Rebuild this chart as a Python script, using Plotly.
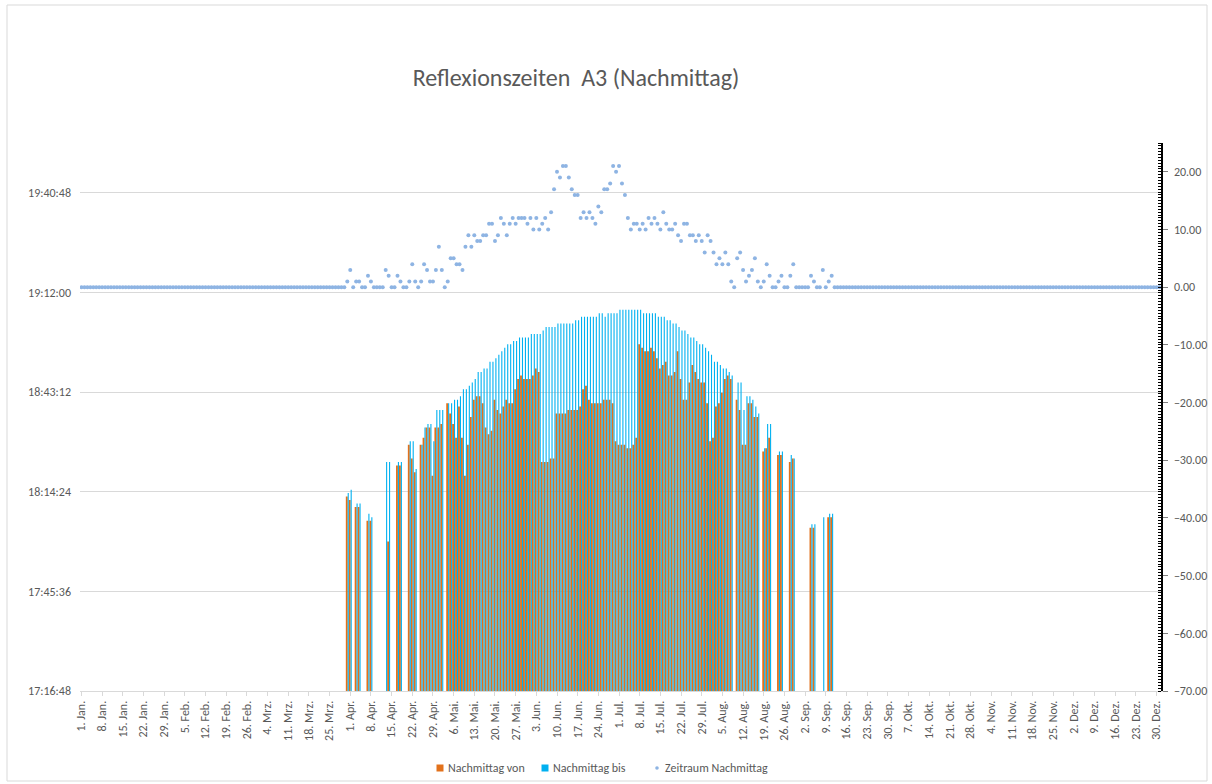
import plotly.graph_objects as go

# ---------------- data ----------------
MONTHS = ["Jan.", "Feb.", "Mrz.", "Apr.", "Mai.", "Jun.", "Jul.", "Aug.", "Sep.", "Okt.", "Nov.", "Dez."]
MONTH_DAYS = [31, 29, 31, 30, 31, 30, 31, 31, 30, 31, 30, 31]   # leap year
DAY_LABELS = [f"{d}. {m}" for m, n in zip(MONTHS, MONTH_DAYS) for d in range(1, n + 1)]
TICK_LABELS = DAY_LABELS[::7]

FIRST_DAY = "31. Mrz."   # the lists below start at this category

VON = [
    "18:13", "18:12", None, "18:10", "18:10", None, None, "18:06", "18:06", None,   # 31. Mrz-9. Apr
    None, None, None, None, "18:00", None, None, "18:22", "18:22", None,           # 10.-19. Apr
    None, "18:28", "18:24", "18:20", None, "18:28", "18:30", "18:33", "18:33", "18:19",  # 20.-29. Apr
    "18:33", "18:33", "18:34", None, "18:40", "18:37", "18:34", "18:30", "18:39", "18:30",  # 30. Apr-9. Mai
    "18:19", "18:28", "18:36", "18:41", "18:42", "18:42", "18:40", "18:33", "18:31", "18:32",  # 10.-19. Mai
    "18:41", "18:38", "18:37", "18:39", "18:41", "18:40", "18:40", "18:44", "18:47", "18:48",  # 20.-29. Mai
    "18:47", "18:47", "18:47", "18:48", "18:50", "18:49", "18:23", "18:23", "18:23", "18:24",  # 30. Mai-8. Jun
    "18:24", "18:37", "18:37", "18:37", "18:37", "18:38", "18:38", "18:38", "18:38", "18:39",  # 9.-18. Jun
    "18:44", "18:45", "18:41", "18:40", "18:40", "18:40", "18:40", "18:41", "18:41", "18:41",  # 19.-28. Jun
    "18:40", "18:29", "18:28", "18:28", "18:28", "18:27", "18:27", "18:28", "18:30", "18:57",  # 29. Jun-8. Jul
    "18:56", "18:55", "18:55", "18:56", "18:55", "18:53", "18:50", "18:51", "18:52", "18:48",  # 9.-18. Jul
    "18:48", "18:49", "18:55", "18:47", "18:41", "18:41", "18:46", "18:51", "18:49", "18:47",  # 19.-28. Jul
    "18:46", "18:46", "18:40", "18:29", "18:30", "18:39", "18:40", "18:43", "18:47", "18:48",  # 29. Jul-7. Aug
    "18:47", None, "18:41", "18:38", "18:28", "18:28", "18:40", "18:40", "18:36", "18:36",  # 8.-17. Aug
    None, "18:26", "18:27", "18:30", None, None, "18:25", "18:25", None, None,              # 18.-27. Aug
    "18:23", "18:24", None, None, None, None, None, "18:04", "18:04", None,                 # 28. Aug-6. Sep
    None, None, None, "18:07", "18:07",                                                     # 7.-11. Sep
]

BIS = [
    "18:14", "18:15", None, "18:11", "18:11", None, None, "18:08", "18:07", None,
    None, None, None, "18:23", "18:23", None, None, "18:23", "18:23", None,
    None, "18:29", "18:29", "18:21", None, "18:28", "18:33", "18:34", "18:34", "18:29",
    "18:38", "18:38", "18:38", None, "18:40", "18:40", "18:41", "18:41", "18:42", "18:44",
    "18:44", "18:45", "18:46", "18:47", "18:49", "18:49", "18:50", "18:50", "18:52", "18:52",
    "18:53", "18:54", "18:55", "18:56", "18:57", "18:57", "18:58", "18:58", "18:59", "18:59",
    "18:59", "18:59", "19:00", "19:00", "19:00", "19:00", "19:01", "19:02", "19:02", "19:02",
    "19:02", "19:03", "19:03", "19:03", "19:03", "19:03", "19:03", "19:04", "19:04", "19:05",
    "19:05", "19:05", "19:05", "19:05", "19:05", "19:06", "19:06", "19:05", "19:06", "19:06",
    "19:06", "19:06", "19:07", "19:07", "19:07", "19:07", "19:07", "19:07", "19:07", "19:07",
    "19:06", "19:06", "19:06", "19:06", "19:06", "19:05", "19:05", "19:05", "19:04", "19:04",
    "19:03", "19:03", "19:02", "19:01", "19:01", "19:00", "18:59", "18:59", "18:58", "18:57",
    "18:57", "18:56", "18:55", "18:54", "18:52", "18:52", "18:51", "18:50", "18:50", "18:49",
    "18:48", None, "18:46", "18:46", "18:38", "18:42", "18:42", "18:41", "18:39", "18:37",
    None, "18:27", "18:34", "18:34", None, None, "18:26", "18:26", None, None,
    "18:25", "18:24", None, None, None, None, None, "18:05", "18:05", None,
    None, "18:07", None, "18:08", "18:08",
]

ZEITRAUM = [
    1, 3, 0, 1, 1, 0, 0, 2, 1, 0,
    0, 0, 0, 3, 2, 0, 0, 2, 1, 0,
    0, 1, 4, 1, 0, 1, 4, 3, 1, 1,
    3, 7, 3, 0, 1, 5, 5, 4, 4, 3,
    7, 9, 7, 9, 8, 8, 9, 9, 11, 11,
    8, 9, 12, 11, 9, 11, 12, 11, 12, 12,
    12, 11, 12, 10, 12, 10, 11, 12, 10, 13,
    17, 20, 19, 21, 21, 19, 17, 16, 16, 12,
    13, 12, 13, 12, 11, 14, 13, 17, 17, 18,
    21, 20, 21, 18, 16, 12, 10, 11, 11, 10,
    11, 10, 12, 11, 12, 11, 10, 13, 11, 10,
    10, 11, 9, 8, 11, 11, 9, 9, 8, 9,
    8, 6, 9, 8, 6, 4, 5, 4, 6, 4,
    1, 0, 5, 6, 3, 1, 2, 3, 5, 1,
    0, 1, 4, 2, 0, 0, 1, 2, 0, 0,
    2, 4, 0, 0, 0, 0, 0, 2, 1, 0,
    0, 3, 0, 1, 2,
]

SERIES_NAMES = ["Nachmittag von", "Nachmittag bis", "Zeitraum Nachmittag"]
COLORS = ["#E2711B", "#00B0F0", "#8EB4E3"]

# ---------------- build full-year series ----------------
start = DAY_LABELS.index(FIRST_DAY)
n_days = len(DAY_LABELS)


def full_year(values, fill):
    out = [fill] * n_days
    out[start:start + len(values)] = values
    return out


def as_time(v):
    # times of day on the epoch date, so the bars rise from the axis bottom
    return None if v is None else f"1970-01-01 {v}:00"


von_full = [as_time(v) for v in full_year(VON, None)]
bis_full = [as_time(v) for v in full_year(BIS, None)]
zeit_full = full_year(ZEITRAUM, 0)

GRAY = "#595959"
FONT = "Calibri, Carlito, Lato, sans-serif"

fig = go.Figure()
fig.add_trace(go.Bar(x=DAY_LABELS, y=von_full, name=SERIES_NAMES[0],
                     width=0.63, offset=-0.5,
                     marker=dict(color=COLORS[0], line=dict(width=0)),
                     yaxis="y", showlegend=False))
fig.add_trace(go.Bar(x=DAY_LABELS, y=bis_full, name=SERIES_NAMES[1],
                     width=0.37, offset=0.13,
                     marker=dict(color=COLORS[1], line=dict(width=0)),
                     yaxis="y", showlegend=False))
fig.add_trace(go.Scatter(x=DAY_LABELS, y=zeit_full, name=SERIES_NAMES[2],
                         mode="markers", marker=dict(color=COLORS[2], size=4),
                         yaxis="y2", showlegend=False))

W, H = 1212, 784
L, R, T, B = 80, 51, 143, 93
pw, ph = W - L - R, H - T - B


def px_x(px):
    return (px - L) / pw


def px_y(py):
    return (H - B - py) / ph


# custom legend (Excel style: small swatch right before the text)
legend_y = px_y(768)
legend_items = [(440, SERIES_NAMES[0], COLORS[0], "rect"),
                (545, SERIES_NAMES[1], COLORS[1], "rect"),
                (657, SERIES_NAMES[2], COLORS[2], "circle")]
shapes = [dict(type="rect", xref="paper", yref="paper",
               x0=px_x(7), x1=px_x(1207), y0=px_y(781), y1=px_y(5),
               line=dict(color="#D9D9D9", width=1), fillcolor="rgba(0,0,0,0)", layer="below")]
annotations = []
for cx, name, col, kind in legend_items:
    half = 3.5 if kind == "rect" else 1.8
    shapes.append(dict(type=kind, xref="paper", yref="paper",
                       x0=px_x(cx - half), x1=px_x(cx + half),
                       y0=px_y(768 + half), y1=px_y(768 - half),
                       line=dict(width=0), fillcolor=col))
    annotations.append(dict(text=name, xref="paper", yref="paper", x=px_x(cx + 6), y=legend_y,
                            xanchor="left", yanchor="middle", showarrow=False,
                            font=dict(size=12, color=GRAY, family=FONT)))

fig.update_layout(
    width=W, height=H,
    margin=dict(l=L, r=R, t=T, b=B, pad=0, autoexpand=False),
    paper_bgcolor="white", plot_bgcolor="white",
    font=dict(family=FONT, color=GRAY, size=12),
    title=dict(text="Reflexionszeiten\u00a0 A3 (Nachmittag)", x=px_x(576), xref="paper",
               xanchor="center", y=1 - 78 / H, yanchor="middle",
               font=dict(size=24, color=GRAY, family=FONT)),
    barmode="overlay",
    showlegend=False,
    xaxis=dict(type="category", categoryorder="array", categoryarray=DAY_LABELS,
               range=[-0.5, n_days - 0.5], automargin=False,
               tickmode="array", tickvals=TICK_LABELS, ticktext=TICK_LABELS,
               tickangle=-90, tickfont=dict(size=12, color=GRAY),
               showline=True, linecolor="#D9D9D9", linewidth=1,
               ticks="outside", ticklen=4, tickcolor="#D9D9D9",
               showgrid=False, zeroline=False),
    yaxis=dict(type="date", automargin=False,
               range=["1970-01-01 17:16:48", "1970-01-01 19:55:12"],
               tick0="1970-01-01 17:16:48", dtick=1728000,
               tickformat="%H:%M:%S", tickfont=dict(size=12, color=GRAY),
               showgrid=True, gridcolor="#D9D9D9", gridwidth=1,
               showline=False, zeroline=False, ticks="", ticklabelstandoff=8),
    yaxis2=dict(overlaying="y", side="right", range=[-70, 25], automargin=False,
                tick0=0, dtick=10, tickformat=".2f",
                tickfont=dict(size=12, color=GRAY),
                showgrid=False, zeroline=False,
                showline=True, linecolor="black", linewidth=1.5,
                ticks="outside", ticklen=5, tickcolor="#7F7F7F", ticklabelstandoff=4,
                minor=dict(ticks="inside", dtick=0.5, ticklen=3, tickcolor="black", showgrid=False)),
    shapes=shapes,
    annotations=annotations,
)

fig.write_html("out.html", config={"displayModeBar": False, "staticPlot": True},
               post_script="document.body.style.margin='0px';document.body.style.overflow='hidden';")
